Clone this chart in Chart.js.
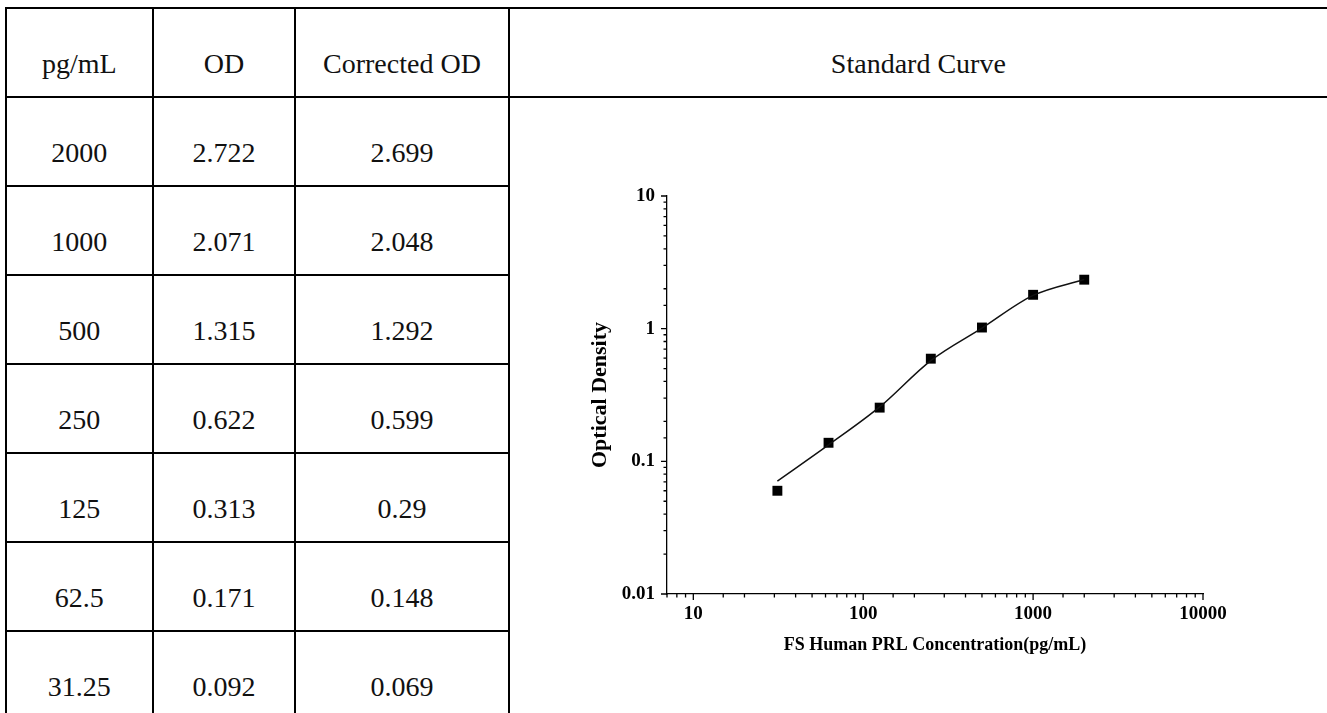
<!DOCTYPE html>
<html>
<head>
<meta charset="utf-8">
<script src="https://cdn.jsdelivr.net/npm/chart.js@4.4.1/dist/chart.umd.min.js"></script>
<style>
  html, body { margin: 0; padding: 0; background: #fff; width: 1327px; height: 713px; overflow: hidden; }
  table { position: absolute; left: 5px; top: 7px; border-collapse: collapse; table-layout: fixed;
          font-family: "Liberation Serif", "Times New Roman", serif; font-size: 28px; color: #111; }
  td { border: 2px solid #000; text-align: center; vertical-align: middle; height: 89px;
       box-sizing: border-box; padding: 22px 0 0 0; }
  td.chartcell { border-right: none; border-bottom: none; }
  #wrap { position: absolute; left: 560px; top: 170px; width: 700px; height: 500px; }
</style>
</head>
<body>
<table id="tabla">
  <colgroup><col style="width:147px"><col style="width:143px"><col style="width:214px"><col style="width:822px"></colgroup>
</table>
<div id="wrap"><canvas id="myChart"></canvas></div>
<script>
// tabla de la curva estandar
const headers = ['pg/mL', 'OD', 'Corrected OD', 'Standard Curve'];
const concentrations = [2000, 1000, 500, 250, 125, 62.5, 31.25];
const odValues = [2.722, 2.071, 1.315, 0.622, 0.313, 0.171, 0.092];
const correctedOD = [2.699, 2.048, 1.292, 0.599, 0.29, 0.148, 0.069];

// valores (orden ascendente de concentracion)
const plotConc = [31.25, 62.5, 125, 250, 500, 1000, 2000];
const pointOD = [0.060, 0.138, 0.254, 0.594, 1.02, 1.80, 2.34];
const curveOD = [0.071, 0.133, 0.257, 0.575, 1.01, 1.78, 2.35];
const xTickLabels = [10, 100, 1000, 10000];
const yTickLabels = [0.01, 0.1, 1, 10];

function armarTabla() {
  const tabla = document.getElementById('tabla');
  const filaHead = tabla.insertRow();
  headers.forEach((h, i) => {
    const celda = filaHead.insertCell();
    celda.innerText = h;
    if (i === 3) celda.style.borderRight = 'none';
  });
  concentrations.forEach((c, i) => {
    const fila = tabla.insertRow();
    [c, odValues[i], correctedOD[i]].forEach(v => { fila.insertCell().innerText = String(v); });
    if (i === 0) {
      const celda = fila.insertCell();
      celda.rowSpan = concentrations.length;
      celda.className = 'chartcell';
    }
  });
}

function esEtiqueta(value, lista) {
  return lista.some(v => Math.abs(Math.log10(value) - Math.log10(v)) < 1e-6);
}

// marcas de los ejes: mayores en potencias de diez, menores el resto
const marcasEjes = {
  id: 'marcasEjes',
  afterDraw(chart) {
    const {ctx, chartArea, scales} = chart;
    ctx.save();
    ctx.strokeStyle = '#000';
    ctx.lineWidth = 1.3;
    ctx.beginPath();
    scales.x.ticks.forEach(t => {
      const px = scales.x.getPixelForValue(t.value);
      const len = esEtiqueta(t.value, xTickLabels) ? 6 : 3.5;
      ctx.moveTo(px, chartArea.bottom);
      ctx.lineTo(px, chartArea.bottom + len);
    });
    scales.y.ticks.forEach(t => {
      const py = scales.y.getPixelForValue(t.value);
      const len = esEtiqueta(t.value, yTickLabels) ? 6 : 3.5;
      ctx.moveTo(chartArea.left, py);
      ctx.lineTo(chartArea.left - len, py);
    });
    ctx.stroke();
    ctx.restore();
  }
};

function graficar() {
  const fuente = '"Liberation Serif", "Times New Roman", serif';
  const ctx = document.getElementById('myChart');
  new Chart(ctx, {
    type: 'scatter',
    data: {
      datasets: [{
        type: 'line',
        data: plotConc.map((x, i) => ({x: x, y: curveOD[i]})),
        borderColor: '#111',
        borderWidth: 1.5,
        pointRadius: 0,
        cubicInterpolationMode: 'monotone',
        fill: false,
      }, {
        data: plotConc.map((x, i) => ({x: x, y: pointOD[i]})),
        backgroundColor: '#000',
        borderColor: '#000',
        borderWidth: 0,
        pointStyle: 'rect',
        pointRadius: 7,
      }]
    },
    options: {
      responsive: true,
      maintainAspectRatio: false,
      animation: false,
      layout: { padding: { left: 0, top: 26, right: 57, bottom: 0 } },
      plugins: { legend: { display: false }, tooltip: { enabled: false } },
      scales: {
        x: {
          type: 'logarithmic',
          min: 7,
          max: 10000,
          grid: { display: false, drawTicks: false },
          border: { display: true, color: '#000', width: 1.3 },
          ticks: {
            autoSkip: false, maxRotation: 0, minRotation: 0, padding: 9, color: '#000',
            font: { family: fuente, weight: 'bold', size: 19 },
            callback: value => esEtiqueta(value, xTickLabels) ? String(value) : ''
          },
          title: {
            display: true, text: 'FS Human PRL Concentration(pg/mL)', color: '#000',
            font: { family: fuente, weight: 'bold', size: 18 },
            padding: { top: 14, bottom: 14 }
          },
          afterFit: s => { s.height = 76; }
        },
        y: {
          type: 'logarithmic',
          min: 0.01,
          max: 10,
          grid: { display: false, drawTicks: false },
          border: { display: true, color: '#000', width: 1.3 },
          ticks: {
            autoSkip: false, padding: 12, color: '#000',
            font: { family: fuente, weight: 'bold', size: 19 },
            callback: value => esEtiqueta(value, yTickLabels) ? String(value) : ''
          },
          title: {
            display: true, text: 'Optical Density', color: '#000',
            font: { family: fuente, weight: 'bold', size: 22 },
            padding: { top: 27, bottom: 27 }
          },
          afterFit: s => { s.width = 107; }
        }
      }
    },
    plugins: [marcasEjes]
  });
}

armarTabla();
graficar();
</script>
</body>
</html>
